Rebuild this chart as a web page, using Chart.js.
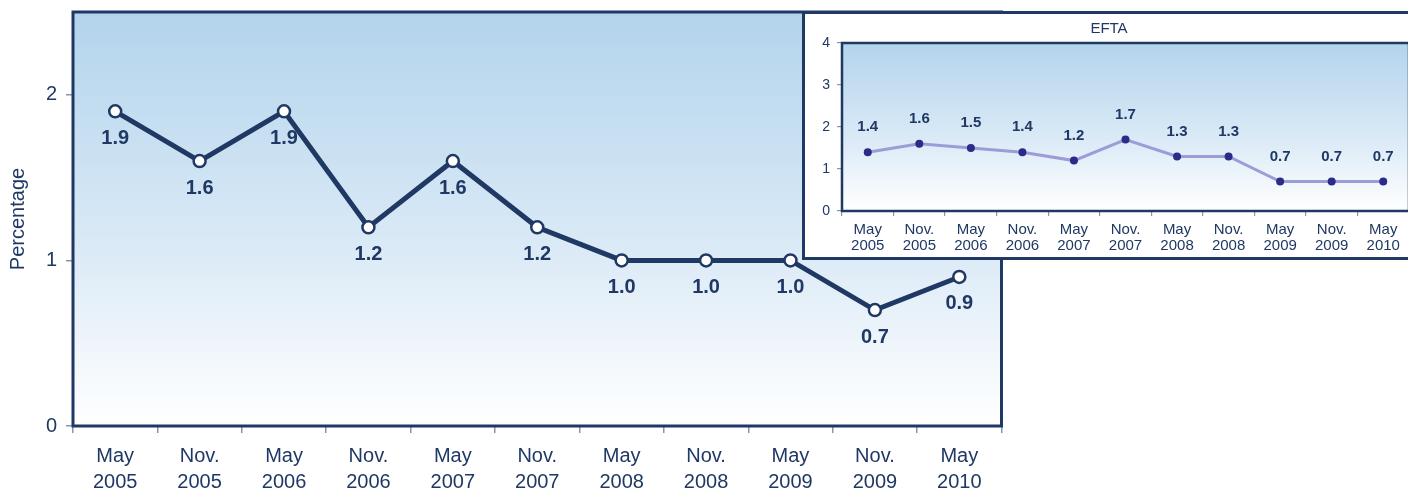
<!DOCTYPE html>
<html>
<head>
<meta charset="utf-8">
<script src="https://cdn.jsdelivr.net/npm/chart.js@4.4.1/dist/chart.umd.min.js"></script>
<style>
  html, body { margin: 0; padding: 0; background: #fff; overflow: hidden; }
  body { width: 1408px; height: 490px; position: relative; font-family: Arial, "Liberation Sans", sans-serif; }
  #mainWrap { position: absolute; left: 0; top: 0; width: 1010px; height: 490px; }
  #insetWrap { position: absolute; left: 802px; top: 11px; width: 614px; height: 249px;
               border: 3px solid #1f3864; box-sizing: border-box; background: #fff; }
</style>
</head>
<body>
<div id="mainWrap"><canvas id="mainChart"></canvas></div>
<div id="insetWrap"><canvas id="insetChart"></canvas></div>
<script>
const periods = [
  ['May', '2005'], ['Nov.', '2005'], ['May', '2006'], ['Nov.', '2006'],
  ['May', '2007'], ['Nov.', '2007'], ['May', '2008'], ['Nov.', '2008'],
  ['May', '2009'], ['Nov.', '2009'], ['May', '2010']
];
const mainValues = [1.9, 1.6, 1.9, 1.2, 1.6, 1.2, 1.0, 1.0, 1.0, 0.7, 0.9];
const eftaValues = [1.4, 1.6, 1.5, 1.4, 1.2, 1.7, 1.3, 1.3, 0.7, 0.7, 0.7];
const mainTicks = [0, 1, 2];
const eftaTicks = [0, 1, 2, 3, 4];

const navy = '#1f3864';
const tickGrey = '#8796ab';

// blue gradient behind the plot + frame around it
const plotFrame = {
  id: 'plotFrame',
  beforeDatasetsDraw(chart, args, opts) {
    const { ctx, chartArea: a } = chart;
    const g = ctx.createLinearGradient(0, a.top, 0, a.bottom);
    g.addColorStop(0, '#b3d4ec');
    g.addColorStop(0.55, '#d9e9f6');
    g.addColorStop(1, '#ffffff');
    ctx.save();
    ctx.fillStyle = g;
    ctx.fillRect(a.left, a.top, a.right - a.left, a.bottom - a.top);
    ctx.strokeStyle = navy;
    ctx.lineWidth = opts.lineWidth || 3;
    ctx.strokeRect(a.left, a.top, a.right - a.left, a.bottom - a.top);
    ctx.restore();
  }
};

// value labels next to the points
const valueLabels = {
  id: 'valueLabels',
  afterDatasetsDraw(chart, args, opts) {
    const { ctx } = chart;
    const meta = chart.getDatasetMeta(0);
    const data = chart.data.datasets[0].data;
    ctx.save();
    ctx.fillStyle = navy;
    ctx.font = 'bold ' + opts.size + 'px Arial, "Liberation Sans", sans-serif';
    ctx.textAlign = 'center';
    ctx.textBaseline = 'middle';
    meta.data.forEach((pt, i) => {
      ctx.fillText(data[i].toFixed(1), pt.x + (opts.dx || 0), pt.y + opts.dy);
    });
    ctx.restore();
  }
};

new Chart(document.getElementById('mainChart'), {
  type: 'line',
  data: {
    labels: periods,
    datasets: [{
      data: mainValues,
      borderColor: navy,
      borderWidth: 5,
      pointRadius: 6,
      pointBackgroundColor: '#fff',
      pointBorderColor: navy,
      pointBorderWidth: 2.5,
      tension: 0
    }]
  },
  options: {
    responsive: true,
    maintainAspectRatio: false,
    animation: false,
    layout: { padding: { top: 12, right: 8, left: 0, bottom: 0 } },
    scales: {
      x: {
        offset: true,
        grid: { offset: true, drawOnChartArea: false, tickLength: 7, tickColor: tickGrey, lineWidth: 1.5 },
        border: { display: false },
        ticks: { color: navy, font: { size: 20, lineHeight: 1.3 }, padding: 10, maxRotation: 0, autoSkip: false },
        afterFit(s) { s.height = 64; }
      },
      y: {
        min: 0,
        max: 2.5,
        afterBuildTicks(s) { s.ticks = mainTicks.map(v => ({ value: v })); },
        grid: { drawOnChartArea: false, tickLength: 7, tickColor: tickGrey, lineWidth: 1.5 },
        border: { display: false },
        ticks: { color: navy, font: { size: 20 }, padding: 9 },
        title: { display: true, text: 'Percentage', color: navy, font: { size: 20 }, padding: { top: 6 } },
        afterFit(s) { s.width = 73; s.paddingTop = 0; s.paddingBottom = 0; }
      }
    },
    plugins: {
      legend: { display: false },
      tooltip: { enabled: false },
      plotFrame: { lineWidth: 3 },
      valueLabels: { size: 20, dy: 27 }
    }
  },
  plugins: [plotFrame, valueLabels]
});

new Chart(document.getElementById('insetChart'), {
  type: 'line',
  data: {
    labels: periods,
    datasets: [{
      data: eftaValues,
      borderColor: '#9c9cd9',
      borderWidth: 3,
      pointRadius: 4,
      pointBackgroundColor: '#2b2b88',
      pointBorderColor: '#2b2b88',
      pointBorderWidth: 0,
      tension: 0
    }]
  },
  options: {
    responsive: true,
    maintainAspectRatio: false,
    animation: false,
    layout: { padding: { top: 0, right: 0, left: 0, bottom: 0 } },
    scales: {
      x: {
        offset: true,
        grid: { offset: true, drawOnChartArea: false, tickLength: 5, tickColor: tickGrey, lineWidth: 1.2 },
        border: { display: false },
        ticks: { color: navy, font: { size: 15, lineHeight: 1.07 }, padding: 6, maxRotation: 0, autoSkip: false },
        afterFit(s) { s.height = 46; }
      },
      y: {
        min: 0,
        max: 4,
        afterBuildTicks(s) { s.ticks = eftaTicks.map(v => ({ value: v })); },
        grid: { drawOnChartArea: false, tickLength: 5, tickColor: tickGrey, lineWidth: 1.2 },
        border: { display: false },
        ticks: { color: navy, font: { size: 14 }, padding: 7 },
        afterFit(s) { s.width = 37; }
      }
    },
    plugins: {
      legend: { display: false },
      tooltip: { enabled: false },
      title: { display: true, text: 'EFTA', color: navy, font: { size: 15, weight: 'normal' }, padding: { top: 6, bottom: 5 } },
      plotFrame: { lineWidth: 2.5 },
      valueLabels: { size: 15, dy: -25 }
    }
  },
  plugins: [plotFrame, valueLabels]
});
</script>
</body>
</html>
